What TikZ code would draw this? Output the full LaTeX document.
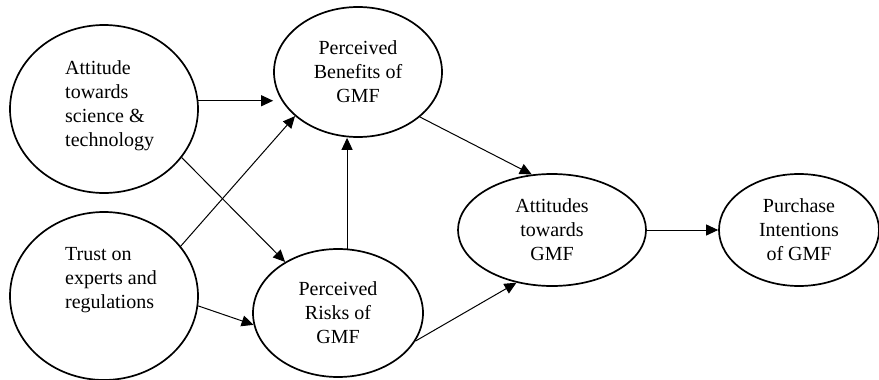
\documentclass[tikz,border=0pt]{standalone}
\usepackage{fontspec}
\setmainfont{Liberation Serif}
\usetikzlibrary{arrows.meta,shapes.geometric}

\tikzset{
  construct/.style={ellipse, draw, line width=1.7pt, inner sep=0pt,
    align=center, font=\fontsize{20}{24}\selectfont},
  sidetext/.style={inner sep=0pt, align=left, anchor=west,
    font=\fontsize{20}{24}\selectfont},
  path/.style={line width=1pt, -{Triangle[length=12pt,width=11pt]}}
}

\begin{document}
\begin{tikzpicture}[x=1pt, y=-1pt]
  \useasboundingbox (0,0) rectangle (879,380);

  % latent constructs
  \node[construct, minimum width=188pt, minimum height=168pt] (att) at (104,109) {};
  \node[sidetext] (attTxt) at (65,106) {Attitude\\towards\\science \&\\technology};

  \node[construct, minimum width=188pt, minimum height=168pt] (trust) at (104,296) {};
  \node[sidetext] (trustTxt) at (65,280) {Trust on\\experts and\\regulations};

  \node[construct, minimum width=168pt, minimum height=130pt] (ben) at (358,72)
    {Perceived\\Benefits of\\GMF};
  \node[construct, minimum width=170pt, minimum height=128pt] (risk) at (338,313)
    {Perceived\\Risks of\\GMF};
  \node[construct, minimum width=188pt, minimum height=112pt] (atg) at (552,230)
    {Attitudes\\towards\\GMF};
  \node[construct, minimum width=160pt, minimum height=112pt] (pur) at (799,230)
    {Purchase\\Intentions\\of GMF};

  % structural paths
  \draw[path] (att.5) -- (att.5 -| ben.west);
  \draw[path] (att.-32) -- (risk.136);
  \draw[path] (trust.33) -- (ben.215);
  \draw[path] (trust.-6) -- (risk.188);
  \draw[path] (risk.82) -- (risk.82 |- ben.south);
  \draw[path] (ben.-36) -- (atg.110);
  \draw[path] (risk.-20) -- (atg.236);
  \draw[path] (atg.east) -- (pur.west);
\end{tikzpicture}
\end{document}
